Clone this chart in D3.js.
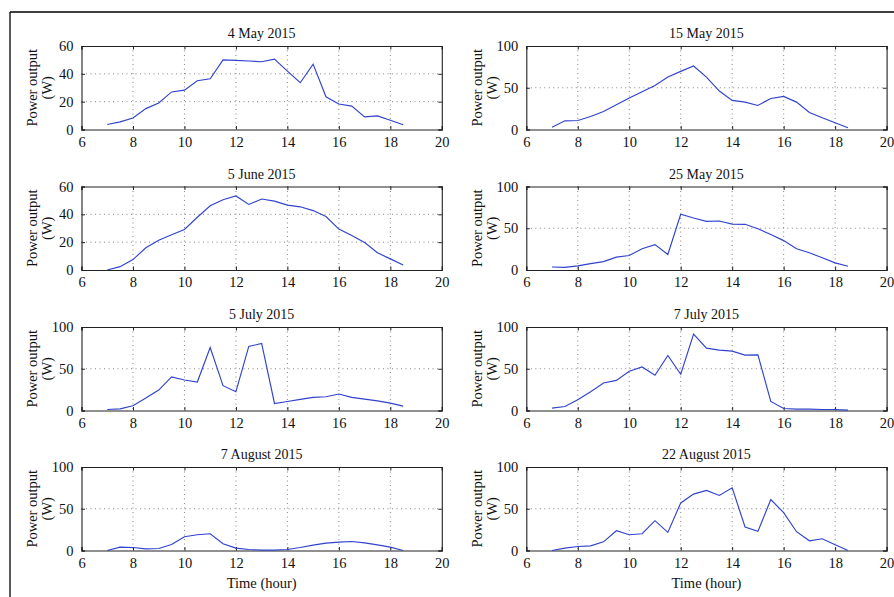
<!DOCTYPE html>
<html><head><meta charset="utf-8">
<script src="https://cdn.jsdelivr.net/npm/d3@7/dist/d3.min.js"></script>
<style>
body{margin:0;background:#fff;}
svg{display:block;}
svg text{font-family:"Liberation Serif","DejaVu Serif",serif;}
</style></head><body>
<svg id="c" width="894" height="597"></svg>
<script>
const hours = [7,7.5,8,8.5,9,9.5,10,10.5,11,11.5,12,12.5,13,13.5,14,14.5,15,15.5,16,16.5,17,17.5,18,18.5];
const titles = ["4 May 2015","15 May 2015","5 June 2015","25 May 2015","5 July 2015","7 July 2015","7 August 2015","22 August 2015"];
const yMaxes = [60,100,60,100,100,100,100,100];
const xTicks = [6,8,10,12,14,16,18,20];
const yTicks60 = [0,20,40,60];
const yTicks100 = [0,50,100];
const may4  = [3.6,5.5,8.2,15,19,27,28.3,35,36.5,50,49.7,49.2,48.7,50.6,42,33.6,47,23.5,18.3,16.8,9.1,9.8,6.7,3.4];
const may15 = [2.8,10.4,10.8,15.6,21.6,29.6,37.6,45.2,52.8,62.8,69.6,76,62.8,46,34.8,32.8,28.8,37.2,39.6,32.8,20.4,14,8,2];
const jun5  = [0,2.4,7.5,16,21.4,25.3,29.1,37.9,46.2,50.5,53.2,47.1,51,49.5,46.6,45.4,42.7,38.4,29.4,24.8,19.7,12.4,8,3.6];
const may25 = [3.6,3.2,4.9,7.7,10.1,15.4,17.4,25.5,30.4,18.6,66.8,62.3,58.3,58.7,55,54.7,49.4,42.5,35.2,25.5,20.6,14.6,8.5,4.5];
const jul5  = [1.2,2,5.6,14.9,24.5,40.2,36.5,34.1,75.5,29.7,22.5,76.7,80.3,8.4,10.8,13.3,15.7,16.5,19.7,15.7,13.7,11.6,8.8,5.2];
const jul7  = [2.8,4.8,12.9,22.5,32.9,36.1,47,52.2,42.2,65.9,43.4,91.6,74.7,72.3,71.1,66.3,66.7,10.8,2.4,1.6,1.6,1.2,1.2,0.4];
const aug7  = [0,4,3.6,2,2.4,7.2,16.5,18.9,20.1,8,2.8,1.2,0.4,0.4,1.2,3.6,6.4,8.8,10,10.8,9.2,6.8,4,0];
const aug22 = [0,2.8,4.8,5.6,10.4,23.7,18.9,20.1,35.7,21.7,57,67.5,71.9,65.9,75.1,28.1,22.9,61,45.4,22.5,11.6,14.1,6.8,0];
const series = [may4,may15,jun5,may25,jul5,jul7,aug7,aug22];

const FONT = "'Liberation Serif','DejaVu Serif',serif";
const svg = d3.select("#c");
// outer frame (top and left)
svg.append("line").attr("x1",10).attr("y1",12).attr("x2",894).attr("y2",12).attr("stroke","#000").attr("stroke-width",1.3);
svg.append("line").attr("x1",10).attr("y1",12).attr("x2",10).attr("y2",597).attr("stroke","#000").attr("stroke-width",1.3);

const colX = [81.5, 526.3];
const rowY = [46, 186.5, 327, 467];
const pw = 360.3, ph = 83.5;
const tickLen = 3.5;

series.forEach((vals, i) => {
  const col = i % 2, row = Math.floor(i / 2);
  const x0 = colX[col], y0 = rowY[row];
  const g = svg.append("g").attr("transform", `translate(${x0},${y0})`);
  const x = d3.scaleLinear().domain([6,20]).range([0,pw]);
  const yMax = yMaxes[i];
  const y = d3.scaleLinear().domain([0,yMax]).range([ph,0]);
  const yt = yMax === 60 ? yTicks60 : yTicks100;

  // grid
  g.selectAll(".gx").data(xTicks.slice(1,-1)).join("line")
    .attr("x1",d=>x(d)).attr("x2",d=>x(d)).attr("y1",0).attr("y2",ph)
    .attr("stroke","#777").attr("stroke-width",0.9).attr("stroke-dasharray","1,3.5");
  g.selectAll(".gy").data(yt.slice(1,-1)).join("line")
    .attr("x1",0).attr("x2",pw).attr("y1",d=>y(d)).attr("y2",d=>y(d))
    .attr("stroke","#777").attr("stroke-width",0.9).attr("stroke-dasharray","1,3.5");

  // axes with inward ticks
  const bottom = g.append("g").attr("transform",`translate(0,${ph})`)
    .call(d3.axisBottom(x).tickValues(xTicks).tickSize(-tickLen).tickPadding(7).tickFormat(d3.format("d")));
  const top = g.append("g")
    .call(d3.axisTop(x).tickValues(xTicks).tickSize(-tickLen).tickFormat(""));
  const left = g.append("g")
    .call(d3.axisLeft(y).tickValues(yt).tickSize(-tickLen).tickPadding(8).tickFormat(d3.format("d")));
  const right = g.append("g").attr("transform",`translate(${pw},0)`)
    .call(d3.axisRight(y).tickValues(yt).tickSize(-tickLen).tickFormat(""));
  [bottom,top,left,right].forEach(a=>{
    a.attr("font-family",FONT).attr("font-size",14.5);
    a.select(".domain").attr("stroke","#222").attr("stroke-width",1.1);
    a.selectAll(".tick line").attr("stroke","#222");
    a.selectAll("text").attr("fill","#111");
  });

  // line
  const line = d3.line().x((d,j)=>x(hours[j])).y(d=>y(d));
  g.append("path").datum(vals).attr("d",line).attr("fill","none")
    .attr("stroke","#3043cc").attr("stroke-width",1.15);

  // title
  g.append("text").attr("x",pw/2).attr("y",-8).attr("text-anchor","middle")
    .attr("font-family",FONT).attr("font-size",14).attr("fill","#111").text(titles[i]);

  // y label
  const lx = col === 0 ? 32 - x0 : 477 - x0;
  g.append("text").attr("transform",`translate(${lx},${ph/2}) rotate(-90)`)
    .attr("text-anchor","middle").attr("dy","0.35em").attr("font-family",FONT).attr("font-size",14.5).attr("fill","#111").text("Power output");
  g.append("text").attr("transform",`translate(${lx+15},${ph/2}) rotate(-90)`)
    .attr("text-anchor","middle").attr("dy","0.35em").attr("font-family",FONT).attr("font-size",14.5).attr("fill","#111").text("(W)");

  if (row === 3) {
    g.append("text").attr("x",pw/2).attr("y",ph+37).attr("text-anchor","middle")
      .attr("font-family",FONT).attr("font-size",14.5).attr("fill","#111").text("Time (hour)");
  }
});
</script>
</body></html>
